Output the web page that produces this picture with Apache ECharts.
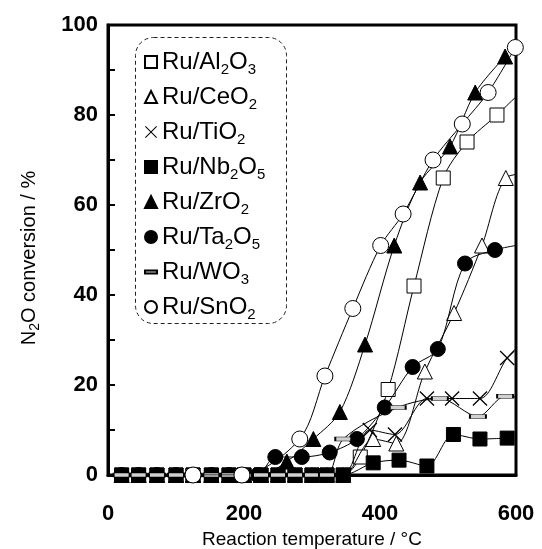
<!DOCTYPE html>
<html>
<head>
<meta charset="utf-8">
<script src="https://cdn.jsdelivr.net/npm/echarts@6/dist/echarts.min.js"></script>
<style>html,body{margin:0;padding:0;background:#fff}#c{width:542px;height:549px}</style>
</head>
<body>
<div id="c"></div>
<script>
// ---- data (temperature °C, N2O conversion %) ----
const seriesNames = ['Ru/Al2O3','Ru/CeO2','Ru/TiO2','Ru/Nb2O5','Ru/ZrO2','Ru/Ta2O5','Ru/WO3','Ru/SnO2'];
const al2o3 = [[20,0],[45,0],[72,0],[100,0],[125,0],[152,0],[178,0],[200,0],[225,0],[250,0],[275,0],[300,0],[322,0],[346,0],[371,4],[412,19],[450,42],[493,66],[528,74],[572,80],[620,87]];
const ceo2 = [[20,0],[45,0],[72,0],[100,0],[125,0],[152,0],[178,0],[200,0],[225,0],[250,0],[275,0],[300,0],[322,0],[346,0],[390,8],[424,7],[466,23],[509,36],[550,51],[585,66],[620,67]];
const tio2 = [[20,0],[45,0],[72,0],[100,0],[125,0],[152,0],[178,0],[200,0],[225,0],[250,0],[275,0],[300,0],[322,0],[346,0],[385,10],[422,9],[469,17],[506,17],[547,17],[587,26],[620,31]];
const nb2o5 = [[20,0],[45,0],[72,0],[100,0],[125,0],[152,0],[178,0],[200,0],[225,0],[250,0],[275,0],[300,0],[322,0],[346,0],[390,2.7],[428,3.3],[469,2],[508,9],[547,8],[587,8.2]];
const zro2 = [[20,0],[45,0],[72,0],[100,0],[125,0],[152,0],[178,0],[200,0],[225,0],[263,3],[302,8],[341,14],[378,29],[421,51],[459,65],[503,73],[540,85],[584,93]];
const ta2o5 = [[20,0],[45,0],[72,0],[100,0],[125,0],[152,0],[178,0],[200,0],[220,0],[246,4],[285,4],[326,5],[366,8],[407,15],[448,24],[485,28],[525,47],[569,50],[620,51.5]];
const wo3 = [[20,0],[45,0],[72,0],[100,0],[125,0],[152,0],[178,0],[200,0],[225,0],[250,0],[275,0],[300,0],[322,0],[346,8],[426,15],[488,17],[544,13],[584,17.5],[620,17]];
const sno2 = [[125,0],[197,0],[282,8],[319,22],[360,37],[401,51],[434,58],[478,70],[521,78],[559,85],[599,95]];
const xTicks = [0,200,400,600];
const yTicks = [0,20,40,60,80,100];

const allData = [al2o3, ceo2, tio2, nb2o5, zro2, ta2o5, wo3, sno2];

const xPath = 'path://M0,0.6L0.6,0L5,4.4L9.4,0L10,0.6L5.6,5L10,9.4L9.4,10L5,5.6L0.6,10L0,9.4L4.4,5Z';
const barPath = 'path://M0,0h16v4h-16z';
const white = {color:'#fff', borderColor:'#000', borderWidth:1};
const black = {color:'#000', borderColor:'#000', borderWidth:1};
const styles = [
  {symbol:'rect', size:14, item:white, icon:'rect'},
  {symbol:'triangle', size:15, item:white, icon:'triangle'},
  {symbol:xPath, size:15, item:{color:'#000', borderWidth:0}, icon:xPath},
  {symbol:'rect', size:14, item:black, icon:'rect'},
  {symbol:'triangle', size:15, item:black, icon:'triangle'},
  {symbol:'circle', size:15, item:black, icon:'circle'},
  {symbol:'rect', size:[16,4], item:{color:'#d0d0d0', borderColor:'#000', borderWidth:1}, icon:barPath},
  {symbol:'circle', size:16, item:white, icon:'circle'}
];

const chart = echarts.init(document.getElementById('c'), null, {renderer:'canvas'});
const font = 'Arial, "Liberation Sans", sans-serif';
const subRich = {s:{fontSize:15, fontFamily:font, color:'#000', verticalAlign:'bottom', lineHeight:19}};

chart.setOption({
  animation:false,
  backgroundColor:'#fff',
  grid:{left:108, right:26, top:25, bottom:74, containLabel:false, outerBoundsMode:'none', show:true, borderColor:'#000', borderWidth:3, backgroundColor:'transparent'},
  graphic:[{type:'rect', left:135, top:37, z:0, shape:{width:151, height:286, r:18}, style:{fill:'#fff', stroke:'#222', lineWidth:1, lineDash:[4,3]}}],
  legend:{
    orient:'vertical', left:139, top:42, itemWidth:12, itemHeight:12, itemGap:5, z:5,
    data: seriesNames.map((n,i)=>({name:n, icon:styles[i].icon})),
    formatter: n => n.replace(/(\d)/g,'{s|$1}'),
    textStyle:{fontSize:24, fontFamily:font, color:'#000', lineHeight:30, rich:subRich}
  },
  xAxis:{
    type:'value', min:0, max:600, interval:200,
    axisLine:{show:true, lineStyle:{color:'#000', width:3}},
    axisTick:{show:false}, splitLine:{show:false},
    axisLabel:{fontSize:22, fontWeight:'bold', fontFamily:font, color:'#000', margin:28,
      formatter: v => xTicks.includes(v) ? String(v) : ''},
    name:'Reaction temperature / °C', nameLocation:'middle', nameGap:48,
    nameTextStyle:{fontSize:19, fontFamily:font, color:'#000'}
  },
  yAxis:{
    type:'value', min:0, max:100, interval:10,
    axisLine:{show:true, lineStyle:{color:'#000', width:3}},
    axisTick:{show:true, inside:true, length:7, lineStyle:{color:'#000', width:2}},
    splitLine:{show:false},
    axisLabel:{fontSize:22, fontWeight:'bold', fontFamily:font, color:'#000', margin:10,
      formatter: v => yTicks.includes(v) ? String(v) : ''},
    name:'N{s|2}O conversion / %', nameLocation:'middle', nameGap:66, nameRotate:90,
    nameTextStyle:{fontSize:20, fontFamily:font, color:'#000', lineHeight:26, padding:[0,16,0,0], rich:{s:{fontSize:14, fontFamily:font, color:'#000', verticalAlign:'bottom', lineHeight:16}}}
  },
  series: seriesNames.map((n,i)=>({
    name:n, type:'line', data:allData[i], smooth:0.3, clip:true,
    symbol:styles[i].symbol, symbolSize:styles[i].size, showAllSymbol:true,
    itemStyle:styles[i].item,
    lineStyle:{color:'#000', width:1},
    z:2+i
  }))
});
</script>
</body>
</html>
